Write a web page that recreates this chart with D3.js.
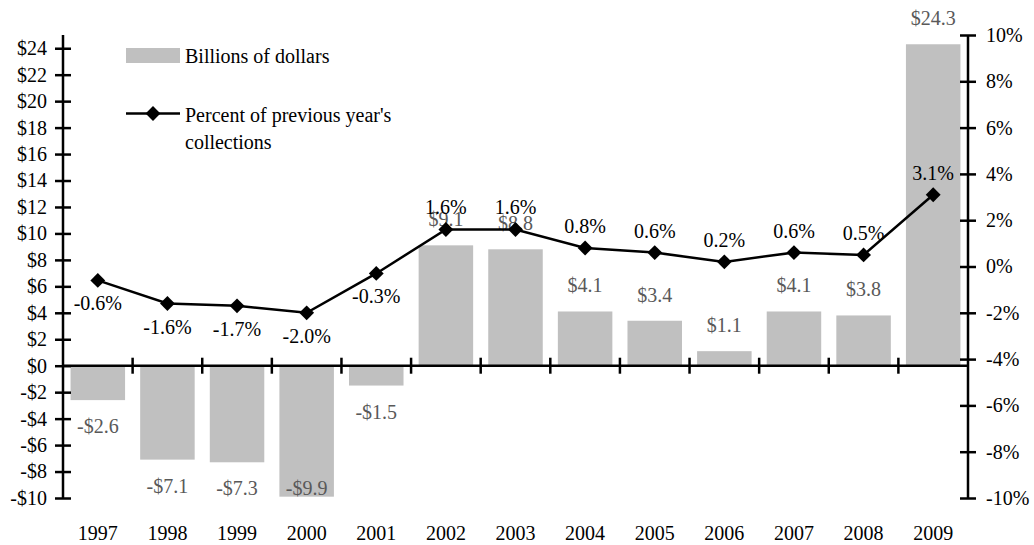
<!DOCTYPE html>
<html>
<head>
<meta charset="utf-8">
<script src="https://cdn.jsdelivr.net/npm/d3@7"></script>
<style>
  body { margin: 0; background: #fff; }
  text { font-family: "Liberation Serif", "Times New Roman", serif; }
</style>
</head>
<body>
<div id="chart"></div>
<script>
// Data
const years = ['1997', '1998', '1999', '2000', '2001', '2002', '2003', '2004', '2005', '2006', '2007', '2008', '2009'];
const billions = [-2.6, -7.1, -7.3, -9.9, -1.5, 9.1, 8.8, 4.1, 3.4, 1.1, 4.1, 3.8, 24.3];
const percents = [-0.6, -1.6, -1.7, -2.0, -0.3, 1.6, 1.6, 0.8, 0.6, 0.2, 0.6, 0.5, 3.1];
const dollarTicks = d3.range(-10, 25, 2);
const percentTicks = d3.range(-10, 11, 2);

const width = 1034;
const height = 545;
const margin = { top: 35, right: 66, bottom: 47, left: 63 };

const svg = d3.select('#chart')
  .append('svg')
  .attr('width', width)
  .attr('height', height);

const x = d3.scaleBand()
  .domain(years)
  .range([margin.left, width - margin.right])
  .paddingInner(0.217)
  .paddingOuter(0.1085);

const yLeft = d3.scaleLinear()
  .domain([-10, 25])
  .range([height - margin.bottom, margin.top]);

const yRight = d3.scaleLinear()
  .domain([-10, 10])
  .range([height - margin.bottom, margin.top]);

const fmtDollar = (d) => (d < 0 ? '-$' : '$') + Math.abs(d);
const fmtDollarLabel = (d) => (d < 0 ? '-$' : '$') + Math.abs(d).toFixed(1);
const fmtPct = (d) => (d < 0 ? '-' : '') + Math.abs(d).toFixed(1) + '%';

// bars
svg.selectAll('.bar')
  .data(years)
  .enter()
  .append('rect')
  .attr('class', 'bar')
  .attr('x', (d) => x(d))
  .attr('width', x.bandwidth())
  .attr('y', (d, i) => yLeft(Math.max(0, billions[i])))
  .attr('height', (d, i) => Math.abs(yLeft(billions[i]) - yLeft(0)))
  .attr('fill', '#c0c0c0');

// left axis
const leftAxis = svg.append('g')
  .attr('transform', `translate(${margin.left},0)`)
  .call(d3.axisLeft(yLeft).tickValues(dollarTicks).tickSize(0).tickPadding(16).tickFormat(fmtDollar));
leftAxis.select('.domain').remove();
leftAxis.selectAll('.tick').append('line')
  .attr('x1', -8).attr('x2', 8)
  .attr('stroke', '#000').attr('stroke-width', 2.5);
leftAxis.append('line')
  .attr('y1', yLeft(-10)).attr('y2', yLeft(25))
  .attr('stroke', '#000').attr('stroke-width', 2.5);

// right axis
const rightAxis = svg.append('g')
  .attr('transform', `translate(${width - margin.right},0)`)
  .call(d3.axisRight(yRight).tickValues(percentTicks).tickSize(0).tickPadding(18).tickFormat((d) => d + '%'));
rightAxis.select('.domain').remove();
rightAxis.selectAll('.tick').append('line')
  .attr('x1', -8).attr('x2', 8)
  .attr('stroke', '#000').attr('stroke-width', 2.5);
rightAxis.append('line')
  .attr('y1', yRight(-10)).attr('y2', yRight(10))
  .attr('stroke', '#000').attr('stroke-width', 2.5);

svg.selectAll('.tick text')
  .attr('font-size', '20px')
  .attr('fill', '#000');

// category axis along zero
const gap = (x.step() - x.bandwidth()) / 2;
svg.append('line')
  .attr('x1', margin.left).attr('x2', width - margin.right)
  .attr('y1', yLeft(0)).attr('y2', yLeft(0))
  .attr('stroke', '#000').attr('stroke-width', 2.5);
svg.selectAll('.cat-tick')
  .data(years.slice(1))
  .enter()
  .append('line')
  .attr('class', 'cat-tick')
  .attr('x1', (d) => x(d) - gap).attr('x2', (d) => x(d) - gap)
  .attr('y1', yLeft(0) - 8).attr('y2', yLeft(0) + 8)
  .attr('stroke', '#000').attr('stroke-width', 2.5);

svg.selectAll('.year')
  .data(years)
  .enter()
  .append('text')
  .attr('class', 'year')
  .attr('x', (d) => x(d) + x.bandwidth() / 2)
  .attr('y', 540)
  .attr('text-anchor', 'middle')
  .attr('font-size', '20px')
  .text((d) => d);

// bar labels
svg.selectAll('.bar-label')
  .data(years)
  .enter()
  .append('text')
  .attr('class', 'bar-label')
  .attr('x', (d) => x(d) + x.bandwidth() / 2)
  .attr('y', (d, i) => {
    const v = billions[i];
    return v >= 0 ? yLeft(v) - 26 : Math.min(yLeft(v) + 26, yLeft(-10) - 10);
  })
  .attr('dy', '0.35em')
  .attr('text-anchor', 'middle')
  .attr('font-size', '20px')
  .attr('fill', '#595959')
  .text((d, i) => fmtDollarLabel(billions[i]));

// percent line
const cx = (d) => x(d) + x.bandwidth() / 2;
const line = d3.line()
  .x((d, i) => cx(years[i]))
  .y((d) => yRight(d));

svg.append('path')
  .datum(percents)
  .attr('d', line)
  .attr('fill', 'none')
  .attr('stroke', '#000')
  .attr('stroke-width', 2.5);

const diamond = d3.symbol().type(d3.symbolSquare).size(110);
svg.selectAll('.marker')
  .data(percents)
  .enter()
  .append('path')
  .attr('class', 'marker')
  .attr('d', diamond)
  .attr('transform', (d, i) => `translate(${cx(years[i])},${yRight(d)}) rotate(45)`)
  .attr('fill', '#000');

svg.selectAll('.pct-label')
  .data(percents)
  .enter()
  .append('text')
  .attr('class', 'pct-label')
  .attr('x', (d, i) => cx(years[i]))
  .attr('y', (d) => yRight(d) + (d < 0 ? 23 : -22))
  .attr('dy', '0.35em')
  .attr('text-anchor', 'middle')
  .attr('font-size', '20px')
  .attr('fill', '#000')
  .text((d) => fmtPct(d));

// legend
const legend = svg.append('g').attr('transform', 'translate(126,0)');
legend.append('rect')
  .attr('x', 0).attr('y', 48)
  .attr('width', 54).attr('height', 15)
  .attr('fill', '#c0c0c0');
legend.append('text')
  .attr('x', 59).attr('y', 55.5)
  .attr('dy', '0.35em')
  .attr('font-size', '20px')
  .text('Billions of dollars');
legend.append('line')
  .attr('x1', 0).attr('x2', 54)
  .attr('y1', 113.5).attr('y2', 113.5)
  .attr('stroke', '#000').attr('stroke-width', 2.5);
legend.append('path')
  .attr('d', diamond)
  .attr('transform', 'translate(27,113.5) rotate(45)')
  .attr('fill', '#000');
legend.append('text')
  .attr('x', 59).attr('y', 115)
  .attr('dy', '0.35em')
  .attr('font-size', '20px')
  .text("Percent of previous year's");
legend.append('text')
  .attr('x', 59).attr('y', 142)
  .attr('dy', '0.35em')
  .attr('font-size', '20px')
  .text('collections');
</script>
</body>
</html>
